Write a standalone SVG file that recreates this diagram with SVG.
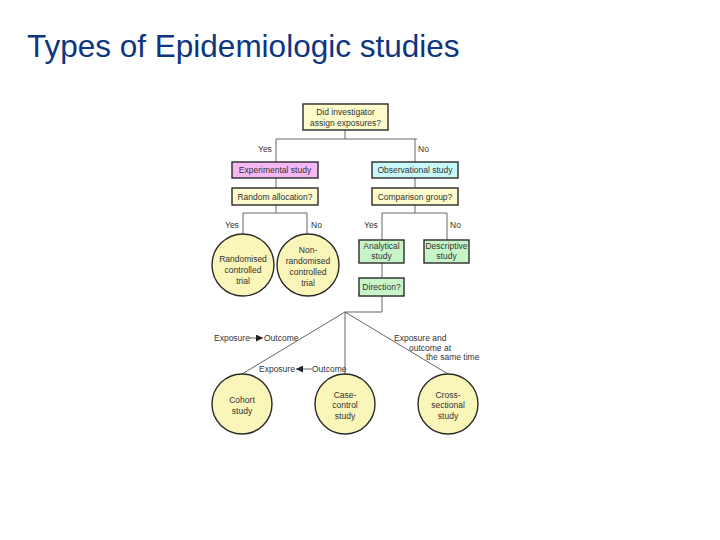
<svg xmlns="http://www.w3.org/2000/svg" width="720" height="540" viewBox="0 0 720 540">
<style>
.t{font-family:"Liberation Sans",Arial,sans-serif;font-size:8.5px;fill:#333;}
.c{text-anchor:middle;}
.box{stroke:#2a2a2a;stroke-width:1.4;}
.y{fill:#fdfacc;}
.p{fill:#f5b8f5;}
.b{fill:#c8f8f8;}
.g{fill:#c8f5c8;}
.circ{fill:#faf5b8;stroke:#2a2a2a;stroke-width:1.4;}
.ln{stroke:#666;stroke-width:1;fill:none;}
</style>
<defs>
<marker id="ah" viewBox="0 0 10 10" refX="10" refY="5" markerWidth="7" markerHeight="7" markerUnits="userSpaceOnUse" orient="auto"><path d="M0,0 L10,5 L0,10 z" fill="#222"/></marker>
</defs>
<rect width="720" height="540" fill="#fff"/>
<text x="27" y="57" style="font-family:'Liberation Sans',Arial,sans-serif;font-size:31.5px;fill:#0d3580">Types of Epidemiologic studies</text>

<g id="connectors">
<path class="ln" d="M345,130 V139 M276,139 H417 M276,139 V162 M415,139 V162"/>
<path class="ln" d="M276,178 V188 M415,178 V188"/>
<path class="ln" d="M276,205 V213 M243,213 H307 M243,213 V234 M307,213 V234"/>
<path class="ln" d="M415,205 V213 M382,213 H447 M382,213 V240 M447,213 V240"/>
<path class="ln" d="M382,263 V278"/>
<path class="ln" d="M382,296 V312 H345"/>
<path class="ln" d="M345,312 L242,374 M345,312 V374 M345,312 L448,374"/>
<path class="ln" d="M249,338 H263" marker-end="url(#ah)"/>
<path class="ln" d="M312,369 H296" marker-end="url(#ah)"/>
<text class="t" x="258" y="152">Yes</text>
<text class="t" x="418" y="152">No</text>
<text class="t" x="225" y="228">Yes</text>
<text class="t" x="311" y="228">No</text>
<text class="t" x="364" y="228">Yes</text>
<text class="t" x="450" y="228">No</text>
<text class="t" x="214" y="341">Exposure</text>
<text class="t" x="264" y="341">Outcome</text>
<text class="t" x="259" y="372">Exposure</text>
<text class="t" x="312" y="372">Outcome</text>
<text class="t" x="394" y="341">Exposure and</text>
<text class="t" x="409" y="351">outcome at</text>
<text class="t" x="426" y="360">the same time</text>
</g>

<g id="q1"><rect class="box y" x="303" y="104" width="85" height="26"/><text class="t c" x="345.5" y="115">Did investigator</text><text class="t c" x="345.5" y="126">assign exposures?</text></g>
<g id="experimental"><rect class="box p" x="232" y="162" width="86" height="16"/><text class="t c" x="275" y="173">Experimental study</text></g>
<g id="observational"><rect class="box b" x="372" y="162" width="86" height="16"/><text class="t c" x="415" y="173">Observational study</text></g>
<g id="random"><rect class="box y" x="232" y="188" width="86" height="17"/><text class="t c" x="275" y="199.5">Random allocation?</text></g>
<g id="comparison"><rect class="box y" x="372" y="188" width="86" height="17"/><text class="t c" x="415" y="199.5">Comparison group?</text></g>
<g id="rct"><circle class="circ" cx="243" cy="265" r="31"/><text class="t c" x="243" y="262">Randomised</text><text class="t c" x="243" y="273">controlled</text><text class="t c" x="243" y="284">trial</text></g>
<g id="nrct"><circle class="circ" cx="308" cy="265" r="31"/><text class="t c" x="308" y="253">Non-</text><text class="t c" x="308" y="264">randomised</text><text class="t c" x="308" y="275">controlled</text><text class="t c" x="308" y="286">trial</text></g>
<g id="analytical"><rect class="box g" x="359" y="240" width="45" height="23"/><text class="t c" x="381.5" y="249">Analytical</text><text class="t c" x="381.5" y="259">study</text></g>
<g id="descriptive"><rect class="box g" x="424" y="240" width="45" height="23"/><text class="t c" x="446.5" y="249">Descriptive</text><text class="t c" x="446.5" y="259">study</text></g>
<g id="direction"><rect class="box g" x="359" y="278" width="45" height="18"/><text class="t c" x="381.5" y="290">Direction?</text></g>
<g id="cohort"><circle class="circ" cx="242" cy="404" r="30"/><text class="t c" x="242" y="403">Cohort</text><text class="t c" x="242" y="414">study</text></g>
<g id="casecontrol"><circle class="circ" cx="345" cy="404" r="30"/><text class="t c" x="345" y="398">Case-</text><text class="t c" x="345" y="408">control</text><text class="t c" x="345" y="419">study</text></g>
<g id="crosssectional"><circle class="circ" cx="448" cy="404" r="30"/><text class="t c" x="448" y="398">Cross-</text><text class="t c" x="448" y="408">sectional</text><text class="t c" x="448" y="419">study</text></g>
</svg>
